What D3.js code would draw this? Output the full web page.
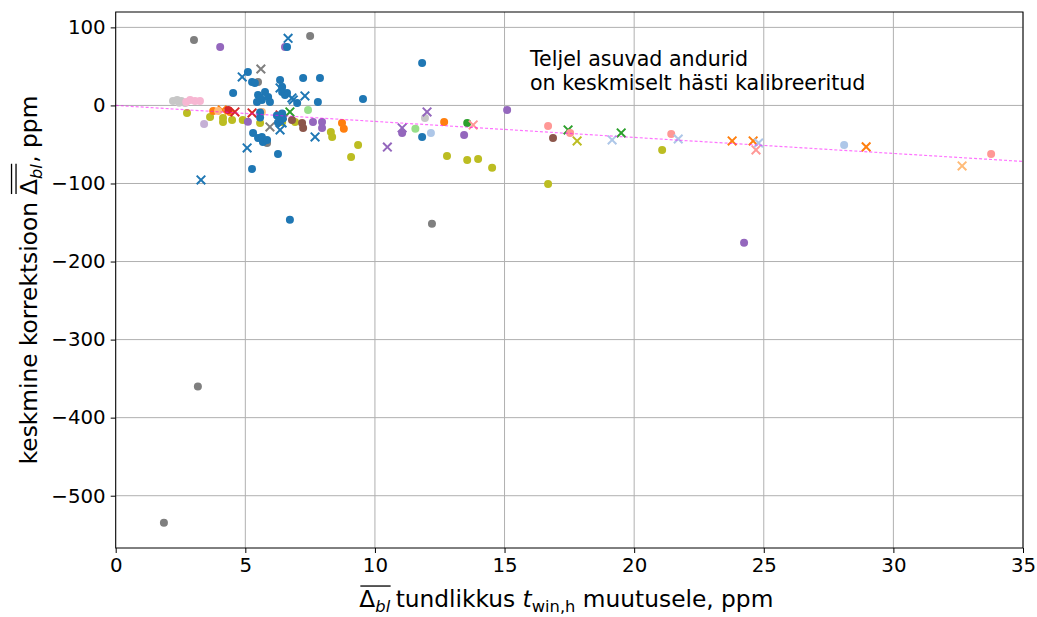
<!DOCTYPE html>
<html>
<head>
<meta charset="utf-8">
<script src="https://cdn.jsdelivr.net/npm/d3@7"></script>
<style>
  html, body { margin: 0; padding: 0; background: #fff; }
  svg { display: block; font-family: 'DejaVu Sans', sans-serif; }
</style>
</head>
<body>
<div id="chart"></div>
<script>
// Axis ticks
const xTicks = [0, 5, 10, 15, 20, 25, 30, 35];
const yTicks = [100, 0, -100, -200, -300, -400, -500];

// Reference line: y = slope * x
const refLineX = [0, 35];
const refSlope = -2.05;

// Points per sensor group, [x, y] in ppm
const grayDots = [[3.02, 83.9], [7.5, 89], [5.49, 30], [12.2, -151.7], [3.17, -360], [1.86, -534.7], [5.84, -48.1]];
const grayCross = [[5.6, 46.7], [5.95, -27.5]];
const lightGrayDots = [[2.21, 5.8], [2.37, 7], [2.53, 5.8], [2.68, 3.2], [2.45, 3.5], [11.93, -16]];
const lightPinkDots = [[2.87, 7], [3.06, 5.8], [3.25, 5.8], [2.72, 4.5]];
const oliveDots = [[2.75, -9.6], [3.64, -14.7], [4.14, -16], [4.49, -18.6], [4.14, -21.1], [4.9, -18.6], [5.57, -22.4],
  [6.42, -21.1], [6.92, -21.1], [8.3, -33.9], [8.35, -40.3], [9.35, -50.6], [9.08, -66], [12.78, -64.7],
  [13.56, -69.8], [13.98, -68.5], [14.52, -80], [16.68, -100.5], [21.08, -57]];
const oliveCross = [[17.8, -45.5]];
const lightPurpleDots = [[3.41, -23.8]];
const purpleDots = [[4.03, 74.9], [6.53, 74.9], [24.24, -176], [7.61, -21.1], [7.96, -21.1], [7.96, -28.8],
  [13.44, -37.8], [15.1, -5.8], [11.05, -35.2], [5.1, -21]];
const purpleCross = [[10.48, -53.3], [11.05, -28.8], [12.01, -8.3]];
const brownDots = [[6.8, -18.6], [7.19, -22.4], [7.23, -28.8], [16.87, -41.6]];
const orangeDots = [[8.73, -22.4], [8.8, -30], [12.67, -21.1], [3.76, -7], [4.41, -8.3]];
const orangeCross = [[23.78, -45.5], [24.59, -45.5], [28.95, -53.1], [4.11, -5.8]];
const lightOrangeDots = [[5.64, -8.3], [3.95, -7]];
const lightOrangeCross = [[32.65, -77.5]];
const greenDots = [[13.56, -22.4]];
const greenCross = [[6.72, -8.3], [17.45, -31.4], [19.5, -35.2]];
const lightGreenDots = [[7.42, -5.8], [11.56, -30]];
const pinkDots = [[16.68, -26.2], [21.43, -36.5], [33.77, -62.1], [17.53, -35.2]];
const pinkCross = [[13.79, -25], [24.7, -57]];
const lightBlueDots = [[12.16, -35.2], [28.1, -50.6]];
const lightBlueCross = [[19.15, -44.2], [21.7, -43], [24.8, -48.1]];
const redDots = [[4.34, -5.8]];
const redCross = [[4.6, -8.3], [5.26, -9.6], [6.34, -12.2]];
const blueDots = [[6.61, 74.9], [11.82, 54.4], [6.72, -146.5], [9.54, 8.3], [11.82, -40.3], [5.1, 42.9],
  [4.53, 16], [5.26, 30], [5.37, 28.8], [6.34, 32.6], [7.23, 35.2], [7.88, 35.2], [6.42, 23.7], [6.42, 17.3],
  [6.61, 16], [6.53, 13.4], [7.0, 3.2], [5.49, 13.4], [5.76, 17.3], [5.88, 10.9], [5.64, 7], [5.45, 4.5],
  [5.57, 9.6], [7.8, 4.5], [5.95, 4.5], [5.49, -41.6], [5.64, -40.3], [5.3, -35.2], [5.68, -46.7],
  [5.84, -44.2], [6.26, -62.1], [5.26, -81.3], [5.57, -8.9], [5.57, -15.4], [6.22, -12.8], [6.42, -10.2],
  [6.45, -16.6], [6.26, -21.8]];
const blueCross = [[6.65, 86], [3.29, -95.4], [4.88, 36.5], [7.3, 12.2], [6.34, 22.4], [6.8, 9.6],
  [5.07, -54.4], [7.69, -40.3], [6.34, -31.4], [6.42, -22.5], [6.85, 7]];

// Drawing order and style per group (tab20 colours)
const groups = [
  { pts: lightGrayDots, color: '#c7c7c7', marker: 'o' },
  { pts: lightPinkDots, color: '#f7b6d2', marker: 'o' },
  { pts: grayDots, color: '#7f7f7f', marker: 'o' },
  { pts: grayCross, color: '#7f7f7f', marker: 'x' },
  { pts: oliveDots, color: '#bcbd22', marker: 'o' },
  { pts: oliveCross, color: '#bcbd22', marker: 'x' },
  { pts: lightPurpleDots, color: '#c5b0d5', marker: 'o' },
  { pts: purpleDots, color: '#9467bd', marker: 'o' },
  { pts: purpleCross, color: '#9467bd', marker: 'x' },
  { pts: brownDots, color: '#8c564b', marker: 'o' },
  { pts: orangeDots, color: '#ff7f0e', marker: 'o' },
  { pts: orangeCross, color: '#ff7f0e', marker: 'x' },
  { pts: lightOrangeDots, color: '#ffbb78', marker: 'o' },
  { pts: lightOrangeCross, color: '#ffbb78', marker: 'x' },
  { pts: greenDots, color: '#2ca02c', marker: 'o' },
  { pts: greenCross, color: '#2ca02c', marker: 'x' },
  { pts: lightGreenDots, color: '#98df8a', marker: 'o' },
  { pts: pinkDots, color: '#ff9896', marker: 'o' },
  { pts: pinkCross, color: '#ff9896', marker: 'x' },
  { pts: lightBlueDots, color: '#aec7e8', marker: 'o' },
  { pts: lightBlueCross, color: '#aec7e8', marker: 'x' },
  { pts: redDots, color: '#d62728', marker: 'o' },
  { pts: redCross, color: '#d62728', marker: 'x' },
  { pts: blueDots, color: '#1f77b4', marker: 'o' },
  { pts: blueCross, color: '#1f77b4', marker: 'x' }
];

const W = 1037, H = 617;
const margin = { left: 115.7, right: 14, top: 12, bottom: 69 };

const svg = d3.select('#chart').append('svg')
  .attr('width', W).attr('height', H);

const x = d3.scaleLinear().domain([0, 35]).range([margin.left, W - margin.right]);
const y = d3.scaleLinear().domain([-567, 119.7]).range([H - margin.bottom, margin.top]);

// grid
const grid = svg.append('g').attr('stroke', '#b0b0b0').attr('stroke-width', 1);
grid.selectAll('.gx').data(xTicks).join('line')
  .attr('x1', d => x(d)).attr('x2', d => x(d))
  .attr('y1', y.range()[1]).attr('y2', y.range()[0]);
grid.selectAll('.gy').data(yTicks).join('line')
  .attr('x1', x.range()[0]).attr('x2', x.range()[1])
  .attr('y1', d => y(d)).attr('y2', d => y(d));

// clip for marks
svg.append('clipPath').attr('id', 'plot')
  .append('rect').attr('x', x.range()[0]).attr('y', y.range()[1])
  .attr('width', x.range()[1] - x.range()[0]).attr('height', y.range()[0] - y.range()[1]);

const marks = svg.append('g').attr('clip-path', 'url(#plot)');

groups.forEach(g => {
  if (g.marker === 'o') {
    marks.append('g').selectAll('circle').data(g.pts).join('circle')
      .attr('cx', d => x(d[0])).attr('cy', d => y(d[1]))
      .attr('r', 4).attr('fill', g.color);
  } else {
    const s = 4.3;
    marks.append('g').selectAll('path').data(g.pts).join('path')
      .attr('d', d => {
        const cx = x(d[0]), cy = y(d[1]);
        return `M${cx - s},${cy - s}L${cx + s},${cy + s}M${cx - s},${cy + s}L${cx + s},${cy - s}`;
      })
      .attr('stroke', g.color).attr('stroke-width', 2).attr('fill', 'none');
  }
});

// reference line
marks.append('line')
  .attr('x1', x(refLineX[0])).attr('y1', y(refSlope * refLineX[0]))
  .attr('x2', x(refLineX[1])).attr('y2', y(refSlope * refLineX[1]))
  .attr('stroke', '#ff00ff').attr('stroke-opacity', 0.55)
  .attr('stroke-width', 1.2).attr('stroke-dasharray', '3,2');

// axes
const xAxis = svg.append('g')
  .attr('transform', `translate(0,${y.range()[0]})`)
  .call(d3.axisBottom(x).tickValues(xTicks).tickSize(5).tickPadding(5).tickFormat(d3.format('d')));
const yAxis = svg.append('g')
  .attr('transform', `translate(${x.range()[0]},0)`)
  .call(d3.axisLeft(y).tickValues(yTicks).tickSize(5).tickPadding(5)
    .tickFormat(d => d < 0 ? '\u2212' + Math.abs(d) : d));
[xAxis, yAxis].forEach(a => {
  a.select('.domain').remove();
  a.selectAll('text').attr('font-size', 19.8).attr('fill', '#000').attr('font-family', 'DejaVu Sans');
  a.selectAll('line').attr('stroke', '#000').attr('stroke-width', 1);
});

// frame
svg.append('rect')
  .attr('x', x.range()[0]).attr('y', y.range()[1])
  .attr('width', x.range()[1] - x.range()[0]).attr('height', y.range()[0] - y.range()[1])
  .attr('fill', 'none').attr('stroke', '#000').attr('stroke-width', 1);

// annotation
const note = svg.append('text').attr('font-size', 20.6).attr('fill', '#000');
note.append('tspan').attr('x', 530).attr('y', 66).text('Teljel asuvad andurid');
note.append('tspan').attr('x', 530).attr('y', 90).text('on keskmiselt hästi kalibreeritud');

// helper: Δ with italic subscript "bl" and overline(s)
function deltaLabel(g, fs, bars) {
  const t = g.append('text').attr('font-size', fs);
  t.append('tspan').text('\u0394');
  t.append('tspan').attr('font-style', 'italic').attr('font-size', fs * 0.7).attr('dy', fs * 0.22).text('bl');
  const bb = t.node().getBBox();
  for (let i = 0; i < bars; i++) {
    g.append('line')
      .attr('x1', bb.x + 1).attr('x2', bb.x + bb.width)
      .attr('y1', -fs * 0.9 - i * 4.5).attr('y2', -fs * 0.9 - i * 4.5)
      .attr('stroke', '#000').attr('stroke-width', 1.3);
  }
  return bb.width;
}

// x label
const fsLab = 23.3;
const xl = svg.append('g');
const xd = xl.append('g');
const dw = deltaLabel(xd, fsLab, 1);
const xt = xl.append('text').attr('font-size', fsLab).attr('x', dw + 5);
xt.append('tspan').text('tundlikkus ');
xt.append('tspan').attr('font-style', 'italic').text('t');
xt.append('tspan').attr('font-size', fsLab * 0.7).attr('dy', fsLab * 0.22).text('win,h');
xt.append('tspan').attr('dy', -fsLab * 0.22).text(' muutusele, ppm');
const xw = xl.node().getBBox().width;
xl.attr('transform', `translate(${(x.range()[0] + x.range()[1]) / 2 - xw / 2 - 3},607)`);

// y label
const yl = svg.append('g');
const yt1 = yl.append('text').attr('font-size', fsLab).text('keskmine korrektsioon');
const w1 = yt1.node().getComputedTextLength() + 7;
const yd = yl.append('g').attr('transform', `translate(${w1},0)`);
const dw2 = deltaLabel(yd, fsLab, 2);
yl.append('text').attr('font-size', fsLab).attr('x', w1 + dw2 + 1).text(', ppm');
const yw = yl.node().getBBox().width;
const ymid = (y.range()[0] + y.range()[1]) / 2;
yl.attr('transform', `translate(37,${ymid + yw / 2}) rotate(-90)`);
</script>
</body>
</html>
